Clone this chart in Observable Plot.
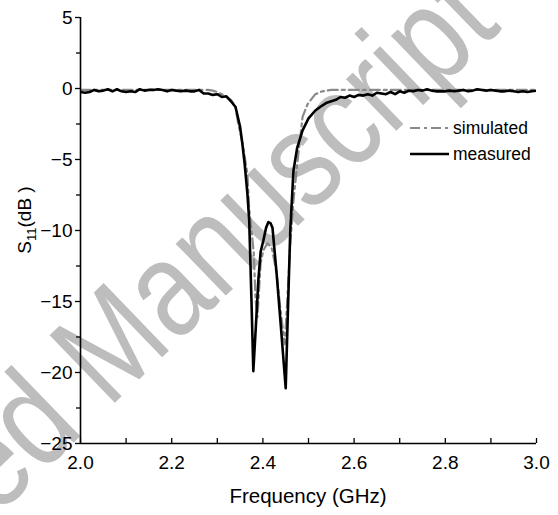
<!DOCTYPE html>
<html>
<head>
<meta charset="utf-8">
<script src="https://cdn.jsdelivr.net/npm/d3@7"></script>
<script src="https://cdn.jsdelivr.net/npm/@observablehq/plot@0.6"></script>
<style>
  html, body { margin: 0; padding: 0; background: #fff; }
  #chart svg { display: block; }
</style>
</head>
<body>
<div id="chart"></div>
<script>
// ---- data ----
const measuredFreq = [2.00,2.01,2.02,2.03,2.04,2.05,2.06,2.07,2.08,2.09,2.10,2.11,2.12,2.13,2.14,2.15,2.16,2.17,2.18,2.19,2.20,2.21,2.22,2.23,2.24,2.25,2.26,2.27,2.28,2.29,2.30,2.31,2.32,2.33,2.34,2.35,2.355,2.36,2.366,2.37,2.375,2.379,2.385,2.39,2.395,2.401,2.407,2.412,2.417,2.421,2.43,2.44,2.45,2.455,2.46,2.467,2.475,2.487,2.50,2.515,2.53,2.54,2.55,2.56,2.57,2.58,2.59,2.60,2.61,2.62,2.63,2.64,2.65,2.66,2.67,2.68,2.69,2.70,2.71,2.72,2.73,2.74,2.75,2.76,2.77,2.78,2.79,2.80,2.81,2.82,2.83,2.84,2.85,2.86,2.87,2.88,2.89,2.90,2.91,2.92,2.93,2.94,2.95,2.96,2.97,2.98,2.99,3.00];
const measuredDb = [-0.25,-0.3,-0.25,-0.1,-0.2,-0.15,-0.05,-0.2,-0.05,-0.2,-0.25,-0.2,-0.25,-0.05,-0.15,-0.1,-0.1,-0.05,-0.1,-0.2,-0.1,-0.15,-0.2,-0.15,-0.2,-0.2,-0.1,-0.35,-0.35,-0.45,-0.4,-0.6,-0.55,-0.9,-1.3,-2.7,-3.9,-5.3,-7.4,-9.3,-15,-19.9,-16.5,-13.5,-11.5,-10.7,-9.8,-9.4,-9.5,-9.8,-13,-17,-21.1,-15.5,-10,-5.8,-4.2,-2.95,-2.1,-1.55,-1.2,-1.0,-0.9,-0.8,-0.6,-0.65,-0.5,-0.6,-0.45,-0.5,-0.4,-0.5,-0.3,-0.35,-0.4,-0.25,-0.4,-0.2,-0.3,-0.15,-0.2,-0.1,-0.15,-0.05,-0.15,-0.2,-0.2,-0.2,-0.15,-0.2,-0.15,-0.1,-0.2,-0.15,-0.05,-0.1,-0.15,-0.1,-0.15,-0.2,-0.2,-0.15,-0.2,-0.25,-0.2,-0.25,-0.2,-0.15];

const simulatedFreq = [2.00,2.10,2.20,2.28,2.29,2.30,2.31,2.32,2.33,2.34,2.346,2.355,2.36,2.366,2.37,2.375,2.38,2.384,2.388,2.395,2.401,2.41,2.42,2.43,2.44,2.448,2.455,2.46,2.467,2.476,2.487,2.498,2.515,2.53,2.55,2.70,2.85,3.00];
const simulatedDb = [-0.1,-0.1,-0.1,-0.1,-0.15,-0.25,-0.4,-0.6,-0.8,-1.3,-2.5,-3.8,-4.8,-6.0,-8.5,-10,-11.6,-14.9,-16.1,-12.3,-11.4,-10.9,-11.3,-13,-16,-18,-14,-11,-7.9,-5.1,-2.0,-1.1,-0.4,-0.2,-0.1,-0.1,-0.1,-0.1];

const xTicks = [2.0, 2.2, 2.4, 2.6, 2.8, 3.0];
const xMinorTicks = [2.1, 2.3, 2.5, 2.7, 2.9];
const yTicks = [5, 0, -5, -10, -15, -20, -25];
const yMinorTicks = [2.5, -2.5, -7.5, -12.5, -17.5, -22.5];
const seriesNames = ["simulated", "measured"];
const xLabel = "Frequency (GHz)";
const watermark = "Accepted Manuscript";

const measured = measuredFreq.map((f, i) => ({f, db: measuredDb[i]}));
const simulated = simulatedFreq.map((f, i) => ({f, db: simulatedDb[i]}));

const FONT = "'Liberation Sans', Arial, sans-serif";
const W = 558, H = 515;
const mL = 80, mR = 22, mT = 17, mB = 72;

const chart = Plot.plot({
  width: W, height: H,
  marginLeft: mL, marginRight: mR, marginTop: mT, marginBottom: mB,
  style: {fontFamily: FONT, fontSize: "19px", color: "#000", background: "transparent", overflow: "visible"},
  x: {domain: [2, 3], axis: null},
  y: {domain: [-25, 5], axis: null},
  marks: [
    Plot.line(simulated, {x: "f", y: "db", stroke: "#8a8a8a", strokeWidth: 2.2, strokeDasharray: "10,4,3,4", clip: true}),
    Plot.line(measured, {x: "f", y: "db", stroke: "#000", strokeWidth: 2.6, clip: true}),
    Plot.axisY({ticks: yTicks, tickSize: 5, tickPadding: 3, fontSize: 19, stroke: "#000", strokeWidth: 1.3, label: null}),
    Plot.axisY({ticks: yMinorTicks, tickSize: 4, text: null, stroke: "#000", strokeWidth: 1.3, label: null}),
    Plot.axisX({ticks: xTicks, tickSize: -5, tickPadding: 17, tickFormat: d3.format(".1f"), fontSize: 19, stroke: "#000", strokeWidth: 1.3, label: null}),
    Plot.axisX({ticks: xMinorTicks, tickSize: -5, text: null, stroke: "#000", strokeWidth: 1.3, label: null}),
    Plot.ruleX([2], {stroke: "#000", strokeWidth: 1.6}),
    Plot.ruleY([-25], {stroke: "#000", strokeWidth: 1.6})
  ]
});

document.getElementById("chart").appendChild(chart);

const svg = d3.select(chart);
// watermark behind everything
svg.insert("text", ":first-child")
  .attr("transform", "translate(503,28) rotate(-44) scale(0.92,1.12)")
  .attr("text-anchor", "end")
  .attr("font-family", FONT)
  .attr("font-size", 122)
  .attr("fill", "#bdbdbd")
  .text(watermark);

// x label
svg.append("text")
  .attr("x", (mL + W - mR) / 2).attr("y", 503)
  .attr("text-anchor", "middle")
  .attr("font-family", FONT).attr("font-size", 20.5).attr("fill", "#000")
  .text(xLabel);

// y label with subscript
const yl = svg.append("text")
  .attr("transform", "translate(31,220) rotate(-90)")
  .attr("text-anchor", "middle")
  .attr("font-family", FONT).attr("font-size", 19).attr("fill", "#000");
yl.append("tspan").text("S");
yl.append("tspan").attr("font-size", 13).attr("dy", 5).text("11");
yl.append("tspan").attr("dy", -5).text("(dB )");

// legend
const lg = svg.append("g").attr("font-family", FONT).attr("font-size", 17.5).attr("text-anchor", "start");
const legendStyles = [
  {stroke: "#8a8a8a", width: 2.2, dash: "10,4,3,4"},
  {stroke: "#000", width: 2.6, dash: null}
];
seriesNames.forEach((name, i) => {
  const y = 128 + i * 26;
  lg.append("line").attr("x1", 410).attr("x2", 449).attr("y1", y).attr("y2", y)
    .attr("stroke", legendStyles[i].stroke).attr("stroke-width", legendStyles[i].width)
    .attr("stroke-dasharray", legendStyles[i].dash);
  lg.append("text").attr("x", 453).attr("y", y).attr("dy", "0.35em").attr("text-anchor", "start").attr("fill", "#000").text(name);
});
</script>
</body>
</html>
